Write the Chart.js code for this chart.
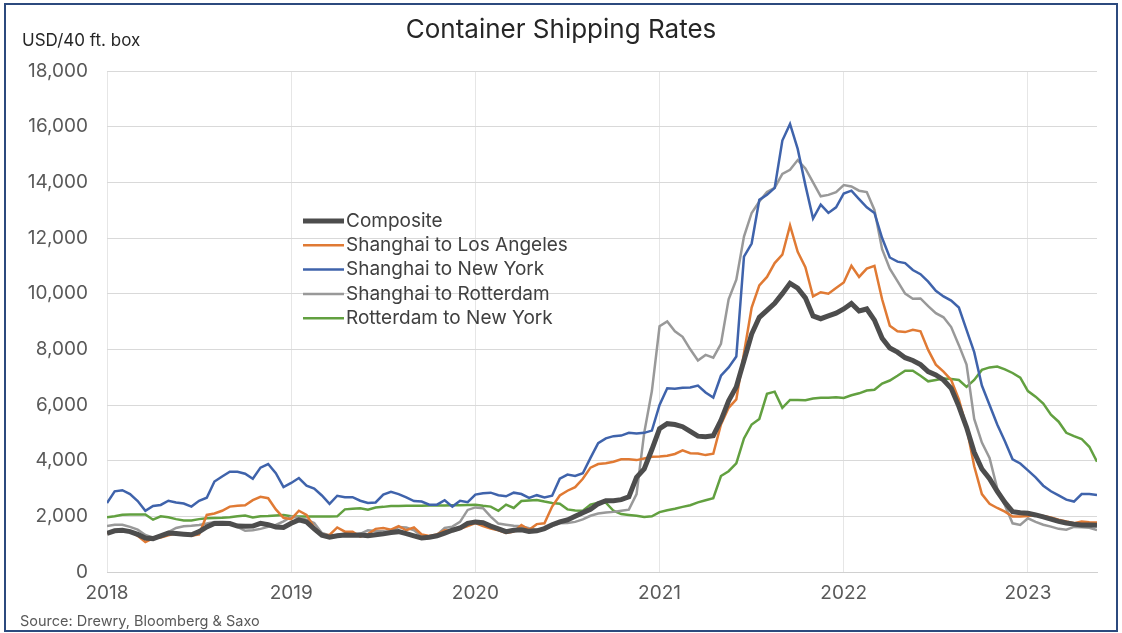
<!DOCTYPE html>
<html>
<head>
<meta charset="utf-8">
<title>Container Shipping Rates</title>
<script src="https://cdn.jsdelivr.net/npm/chart.js@4.4.0/dist/chart.umd.min.js"></script>
<style>
  html, body { margin: 0; padding: 0; background: #fff; }
  canvas { display: block; }
</style>
</head>
<body>
<canvas id="myChart" width="1122" height="633"></canvas>
<script>
// semi-monthly readings, Jan 2018 .. mid-May 2023 (USD per 40 ft. box)
const startYear = 2018;
const stepsPerYear = 24;

const composite = [
  1390, 1480, 1500, 1450, 1350, 1220, 1200, 1300, 1400, 1380,
  1360, 1340, 1450, 1620, 1740, 1750, 1740, 1650, 1640, 1650,
  1750, 1700, 1620, 1600, 1750, 1870, 1800, 1550, 1320, 1250,
  1300, 1330, 1320, 1330, 1300, 1340, 1370, 1420, 1450, 1380,
  1300, 1220, 1250, 1300, 1400, 1500, 1580, 1750, 1800, 1770,
  1650, 1550, 1450, 1500, 1520, 1460, 1480, 1560, 1700, 1800,
  1870, 2000, 2130, 2250, 2450, 2560, 2560, 2600, 2700, 3400,
  3700, 4400, 5150, 5330, 5300, 5220, 5050, 4880, 4860, 4900,
  5450, 6150, 6650, 7600, 8550, 9150, 9400, 9650, 10000, 10370,
  10200, 9850, 9200, 9100, 9200, 9300, 9450, 9650, 9380, 9450,
  9050, 8400, 8050, 7900, 7700, 7600, 7450, 7200, 7080, 6900,
  6600, 5950, 5200, 4300, 3700, 3350, 2900, 2500, 2170, 2130,
  2110, 2050, 1980, 1900, 1820, 1760, 1720, 1690, 1690, 1680
];

const shanghaiLosAngeles = [
  1390, 1500, 1510, 1450, 1300, 1080, 1210, 1240, 1320, 1390,
  1380, 1300, 1350, 2050, 2100, 2200, 2350, 2380, 2400, 2580,
  2700, 2650, 2250, 1950, 1900, 2200, 2050, 1600, 1340, 1330,
  1600, 1450, 1450, 1270, 1360, 1550, 1580, 1520, 1650, 1500,
  1600, 1350, 1290, 1350, 1500, 1470, 1550, 1650, 1760, 1650,
  1560, 1500, 1400, 1450, 1690, 1520, 1720, 1750, 2350, 2750,
  2920, 3050, 3350, 3750, 3880, 3910, 3960, 4050, 4050, 4020,
  4080, 4140, 4150, 4180, 4240, 4370, 4270, 4260, 4200, 4250,
  5300, 5900, 6200, 7860, 9500, 10300, 10600, 11100, 11400, 12450,
  11500, 10950, 9900, 10050, 10000, 10200, 10400, 11000, 10600, 10900,
  11000, 9800, 8850, 8650, 8620, 8700, 8650, 7980, 7450, 7200,
  6900, 6200, 5200, 3800, 2800, 2450, 2300, 2170, 1990, 1990,
  2010, 2050, 2010, 1960, 1880, 1820, 1750, 1810, 1790, 1780
];

const shanghaiNewYork = [
  2480, 2900, 2940, 2800, 2550, 2200, 2370, 2410, 2560, 2500,
  2460, 2350, 2560, 2670, 3250, 3430, 3600, 3600, 3530, 3350,
  3750, 3880, 3550, 3050, 3200, 3375, 3100, 3000, 2750, 2450,
  2740, 2690, 2690, 2560, 2480, 2500, 2780, 2880, 2800, 2680,
  2550, 2530, 2420, 2420, 2580, 2350, 2560, 2510, 2780, 2830,
  2850, 2760, 2720, 2850, 2800, 2660, 2760, 2680, 2740, 3350,
  3500, 3450, 3550, 4100, 4630, 4800, 4880, 4900, 5000, 4980,
  5000, 5080, 6000, 6600, 6580, 6620, 6630, 6700, 6450, 6270,
  7050, 7350, 7740, 11330, 11800, 13370, 13550, 13800, 15500, 16100,
  15200, 13900, 12700, 13200, 12900, 13100, 13600, 13700, 13400, 13100,
  12900, 12000, 11300, 11150, 11100, 10850, 10700, 10430, 10100, 9900,
  9750, 9500, 8700, 7900, 6700, 6000, 5300, 4700, 4050, 3900,
  3650, 3400, 3100, 2900, 2750, 2600, 2530, 2800, 2800, 2770
];

const shanghaiRotterdam = [
  1650, 1700, 1700, 1620, 1520, 1330, 1230, 1300, 1430, 1580,
  1640, 1660, 1690, 1740, 1800, 1790, 1760, 1620, 1480, 1500,
  1550, 1620, 1690, 1820, 1980, 1950, 1880, 1760, 1400, 1310,
  1330, 1370, 1360, 1370, 1500, 1470, 1460, 1450, 1620, 1600,
  1500, 1280, 1250, 1330, 1580, 1630, 1800, 2230, 2320, 2290,
  1990, 1740, 1700, 1660, 1640, 1570, 1510, 1560, 1650, 1750,
  1760, 1800, 1890, 2020, 2100, 2140, 2160, 2200, 2240, 2800,
  5000, 6500, 8830, 9000, 8650, 8450, 8000, 7600, 7800, 7700,
  8200, 9800, 10500, 12050, 12900, 13310, 13650, 13800, 14300, 14450,
  14800, 14500, 14000, 13500, 13550, 13650, 13900, 13850, 13700, 13650,
  13010, 11600, 10900, 10450, 10000, 9820, 9830, 9550, 9300, 9150,
  8800, 8150, 7450, 5500, 4650, 4100, 3000, 2400, 1750, 1690,
  1930, 1800, 1700, 1630, 1550, 1520, 1620, 1610, 1590, 1510
];

const rotterdamNewYork = [
  1965, 2000, 2060, 2070, 2070, 2070, 1880, 2000, 1965, 1900,
  1850, 1850, 1900, 1930, 1940, 1950, 1970, 2000, 2030, 1960,
  2000, 2010, 2030, 2050, 2000, 1990, 1990, 1990, 1990, 1990,
  2000, 2250, 2270, 2290, 2240, 2320, 2340, 2370, 2370, 2380,
  2380, 2380, 2390, 2390, 2390, 2400, 2400, 2410, 2420, 2380,
  2350, 2200, 2420, 2300, 2550, 2570, 2590, 2530, 2480, 2450,
  2250, 2210, 2200, 2420, 2490, 2490, 2200, 2080, 2050, 2020,
  1980, 2000, 2150, 2220, 2270, 2340, 2400, 2500, 2580, 2650,
  3450, 3620, 3900, 4800, 5300, 5500, 6400, 6480, 5900, 6180,
  6180, 6170, 6230, 6260, 6260, 6280, 6250, 6350, 6420, 6520,
  6550, 6770, 6880, 7050, 7230, 7230, 7050, 6850, 6900, 6950,
  6930, 6900, 6650, 6900, 7260, 7350, 7380, 7280, 7150, 6980,
  6500, 6300, 6050, 5650, 5400, 5000, 4880, 4780, 4500, 3960
];

const yearTicks = [2018, 2019, 2020, 2021, 2022, 2023];

const periods = composite.map((_, i) => startYear + i / stepsPerYear);
const toPoints = (values) => values.map((v, i) => ({ x: periods[i], y: v }));

const seriesList = [
  { label: "Composite", values: composite, color: "#4d4d4d", width: 5 },
  { label: "Shanghai to Los Angeles", values: shanghaiLosAngeles, color: "#e07a34", width: 2.5 },
  { label: "Shanghai to New York", values: shanghaiNewYork, color: "#3f63ab", width: 2.5 },
  { label: "Shanghai to Rotterdam", values: shanghaiRotterdam, color: "#999999", width: 2.5 },
  { label: "Rotterdam to New York", values: rotterdamNewYork, color: "#62a040", width: 2.5 },
];

const FONT = "Inter, 'Open Sans', sans-serif";

// titles, unit label, source note, frame and the in-plot legend
const decorations = {
  id: "decorations",
  afterDraw(chart) {
    const c = chart.ctx;
    c.save();
    c.fillStyle = "#262626";
    c.font = "26px " + FONT;
    c.textAlign = "center";
    c.textBaseline = "middle";
    c.fillText("Container Shipping Rates", 561, 30);

    c.font = "17px " + FONT;
    c.textAlign = "left";
    c.fillText("USD/40 ft. box", 22, 41);

    c.fillStyle = "#595959";
    c.font = "14.5px " + FONT;
    c.fillText("Source: Drewry, Bloomberg & Saxo", 20, 622);

    // legend
    let y = 221;
    seriesList.forEach((s) => {
      c.strokeStyle = s.color;
      c.lineWidth = s.width;
      c.beginPath();
      c.moveTo(303, y);
      c.lineTo(344, y);
      c.stroke();
      c.fillStyle = "#404040";
      c.font = "19px " + FONT;
      c.fillText(s.label, 346, y);
      y += 24.3;
    });

    c.strokeStyle = "#2c4a7e";
    c.lineWidth = 2;
    c.strokeRect(5, 4, 1112, 627);
    c.restore();
  },
};

const ctx = document.getElementById("myChart").getContext("2d");
const myChart = new Chart(ctx, {
  type: "line",
  data: {
    datasets: seriesList.map((s) => ({
      label: s.label,
      data: toPoints(s.values),
      borderColor: s.color,
      borderWidth: s.width,
      pointRadius: 0,
      tension: 0,
      fill: false,
    })),
  },
  options: {
    responsive: false,
    animation: false,
    layout: {
      padding: { top: 71, right: 25, bottom: 0, left: 0 },
    },
    plugins: {
      legend: { display: false },
      tooltip: { enabled: false },
    },
    scales: {
      x: {
        type: "linear",
        min: startYear,
        max: periods[periods.length - 1],
        afterBuildTicks: (scale) => {
          scale.ticks = yearTicks.map((v) => ({ value: v }));
        },
        afterFit: (scale) => {
          scale.height = 61;
        },
        ticks: {
          includeBounds: false,
          padding: 10,
          color: "#595959",
          font: { family: FONT, size: 19 },
          callback: (v) => String(v),
        },
        grid: { color: "#e6e6e6", drawTicks: false },
        border: { color: "#d0d0d0" },
      },
      y: {
        min: 0,
        max: 18000,
        afterFit: (scale) => {
          scale.width = 107;
        },
        ticks: {
          stepSize: 2000,
          padding: 19,
          color: "#595959",
          font: { family: FONT, size: 19 },
          callback: (v) => v.toLocaleString("en-US"),
        },
        grid: { color: "#d9d9d9", drawTicks: false },
        border: { display: false },
      },
    },
  },
  plugins: [decorations],
});
</script>
</body>
</html>
